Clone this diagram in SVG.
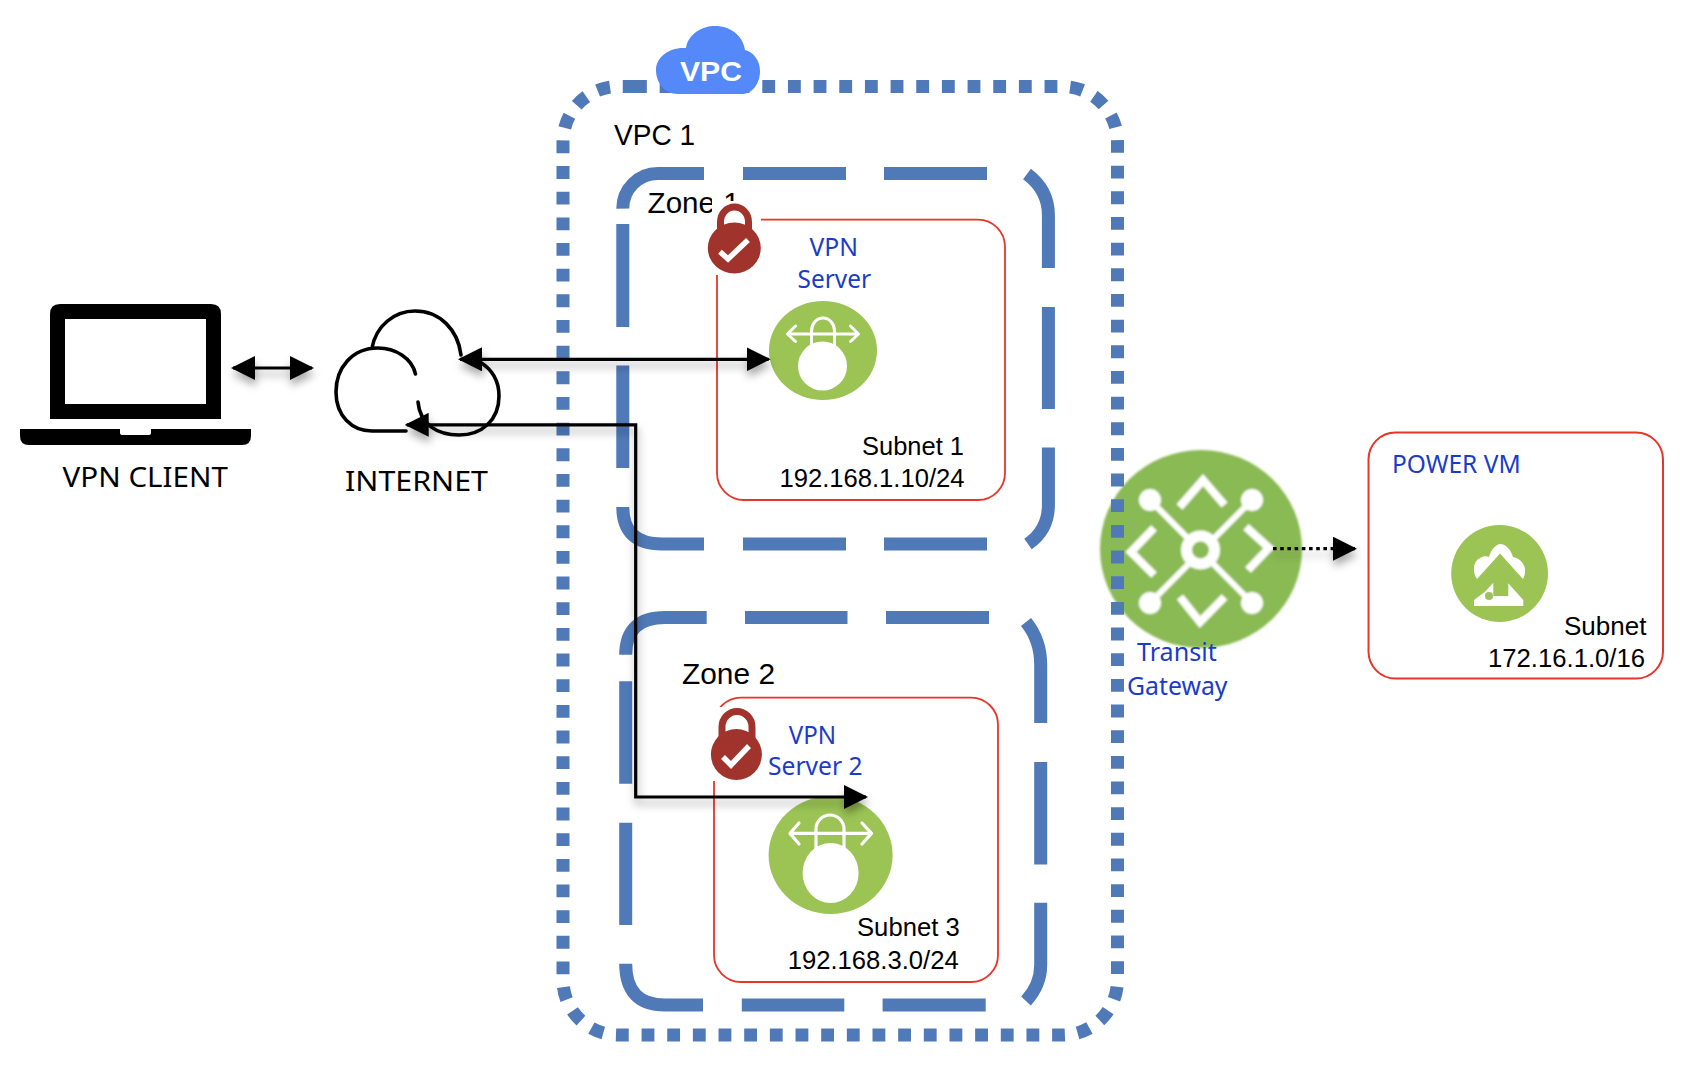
<svg xmlns="http://www.w3.org/2000/svg" width="1692" height="1082" viewBox="0 0 1692 1082">
<style>
text{font-family:"Liberation Sans",Arial,sans-serif;fill:#000}
.plex{font-family:"Noto Sans","Liberation Sans",sans-serif}
.blue{fill:#1a3cc8;font-size:25px}
.lbl{font-size:29px}
.sub{font-size:26px}
.vpc{fill:none;stroke:#5079b8;stroke-width:13;stroke-dasharray:12.83 12.83}
.zone{fill:none;stroke:#5079b8;stroke-width:13}
.subnet{fill:none;stroke:#e8352a;stroke-width:1.8}
.wire{fill:none;stroke:#000;stroke-width:3.2;marker-end:url(#head)}
.two{marker-start:url(#head)}
.ic{fill:none;stroke:#fff;stroke-linecap:round;stroke-linejoin:round}
.lock{fill:#a0342c}
</style>
<defs>
<marker id="head" markerUnits="userSpaceOnUse" markerWidth="24" markerHeight="24" refX="22" refY="12" orient="auto-start-reverse"><path d="M0 0L24 12L0 24Z" fill="#000"/></marker>
<filter id="shadow" x="-10%" y="-30%" width="120%" height="160%"><feDropShadow dx="1" dy="6" stdDeviation="4" flood-color="#000" flood-opacity=".35"/></filter>
<filter id="soft" x="-5%" y="-5%" width="110%" height="110%"><feGaussianBlur stdDeviation=".9"/></filter>
</defs>
<rect width="1692" height="1082" fill="#fff"/>

<g id="transit-gateway">
<g filter="url(#soft)">
<ellipse cx="1201" cy="549" rx="101" ry="99" fill="#8aba52"/>
<g class="ic">
<path stroke-width="6" d="M1150 500L1252 603M1252 500L1150 603"/>
<circle cx="1200.5" cy="550" r="14" fill="#8aba52" stroke-width="11"/>
<g fill="#fff" stroke="none"><circle cx="1150" cy="500" r="11"/><circle cx="1252" cy="500" r="11"/><circle cx="1150" cy="603" r="11"/><circle cx="1252" cy="603" r="11"/></g>
<path stroke-width="8" stroke-linecap="butt" stroke-linejoin="miter" d="M1179.5 507L1203 480L1224.5 505M1154 528L1131 552L1154 575M1246 527L1269 548L1248 570M1180 597L1200 622L1224.5 597"/>
</g>
</g>
</g>

<g id="vpc-1">
<path class="vpc" d="M634 86.6H1063A55 55 0 0 1 1117.5 141.6V980A55 55 0 0 1 1062.5 1035H618A55 55 0 0 1 563 980V141.6A55 55 0 0 1 618 86.6H634"/>
<path d="M678 94C664 94 656 82 656 70C656 58 668 47 686 48C688 34 702 26 715 26C731 26 743 36 745 50C753 52 760 60 760 71C760 84 752 94 742 94Z" fill="#5588f8"/>
<text x="680" y="80.5" font-size="27" font-weight="700" textLength="62" lengthAdjust="spacingAndGlyphs" style="fill:#fff">VPC</text>
<text class="lbl" x="614" y="145" textLength="81" lengthAdjust="spacingAndGlyphs">VPC 1</text>
</g>

<g id="zone-1">
<path class="zone" d="M622.8 208.6A35 35 0 0 1 657.8 173.4H704M743 173.4H846M884 173.4H987M1027 174Q1048.4 190 1048.4 215V268M1048.4 307V409M1048.4 447.6V505Q1048.4 530 1028 544M987 544H884M846 544H743M704 544H662Q622.8 544 622.8 507M622.8 468V365.5M622.8 327V224"/>
<text class="lbl" x="647.6" y="213" textLength="92" lengthAdjust="spacingAndGlyphs">Zone 1</text>
</g>

<g id="zone-2">
<path class="zone" d="M625.7 654.8Q625.7 617.6 665 617.6H706.7M745 617.6H847.5M886 617.6H989M1026 622Q1040.7 640 1040.7 665V723M1040.7 762V864.5M1040.7 902.7V965Q1040.7 985 1026 1001M985.7 1005H882.6M844.3 1005H741.8M703 1005H665Q625.7 1005 625.7 963.8M625.7 925V822.7M625.7 783.8V681.3"/>
<text class="lbl" x="682" y="684" textLength="93" lengthAdjust="spacingAndGlyphs">Zone 2</text>
</g>

<g id="subnet-1">
<rect class="subnet" x="717" y="219.7" width="288" height="280.3" rx="27"/>
<text class="sub" x="862" y="454.5" textLength="102" lengthAdjust="spacingAndGlyphs">Subnet 1</text>
<text class="sub" x="779.5" y="486.5" textLength="185" lengthAdjust="spacingAndGlyphs">192.168.1.10/24</text>
</g>

<g id="lock-1">
<path fill="#fff" d="M712 194H722V201H761V275H712Z"/>
<path d="M720.5 232V222A14 15 0 0 1 748.5 222V232" fill="none" stroke="#a0342c" stroke-width="7"/>
<ellipse class="lock" cx="734.3" cy="248" rx="26.5" ry="25.5"/>
<path d="M720 251.7L728 259L748 240" fill="none" stroke="#fff" stroke-width="5.5"/>
</g>

<g id="vpn-server-1">
<ellipse cx="823" cy="350.5" rx="54" ry="49.5" fill="#9bc455"/>
<path class="ic" stroke-width="3" d="M811.5 345V331A11.5 13 0 0 1 834.5 331V345M788 334H857M795.5 326L787.5 334L795.5 341.5M850.5 326L858.5 334L850.5 341.5"/>
<ellipse cx="822.5" cy="366" rx="24.5" ry="24.5" fill="#fff"/>
<text class="plex blue" x="809.5" y="255.5" textLength="48.5" lengthAdjust="spacingAndGlyphs">VPN</text>
<text class="plex blue" x="797.6" y="288" textLength="73.4" lengthAdjust="spacingAndGlyphs">Server</text>
</g>

<g id="subnet-3">
<rect class="subnet" x="714" y="697.6" width="284" height="284.4" rx="27"/>
<text class="sub" x="857" y="936" textLength="102.7" lengthAdjust="spacingAndGlyphs">Subnet 3</text>
<text class="sub" x="787.7" y="968.6" textLength="171" lengthAdjust="spacingAndGlyphs">192.168.3.0/24</text>
</g>

<g id="lock-2">
<rect x="706" y="707" width="60" height="74" fill="#fff"/>
<path d="M722 738V727A14.5 15 0 0 1 752 727V738" fill="none" stroke="#a0342c" stroke-width="7"/>
<ellipse class="lock" cx="736.4" cy="754.5" rx="25.5" ry="25.5"/>
<path d="M723 757L731 765L749 746" fill="none" stroke="#fff" stroke-width="5.5"/>
</g>

<g id="vpn-server-2">
<ellipse cx="830.6" cy="855" rx="62" ry="59" fill="#9bc455"/>
<path class="ic" stroke-width="3.2" d="M816 850V829A14 14 0 0 1 844 829V850M791 833.4H871M799 823L790 833.4L799 844M862 823L871.5 833.4L862 844"/>
<ellipse cx="830.6" cy="873" rx="28" ry="30" fill="#fff"/>
<text class="plex blue" x="788.7" y="744" textLength="47.3" lengthAdjust="spacingAndGlyphs">VPN</text>
<text class="plex blue" x="768" y="775" textLength="94.6" lengthAdjust="spacingAndGlyphs">Server 2</text>
</g>

<g id="transit-label">
<text class="plex blue" x="1137" y="661" textLength="79.7" lengthAdjust="spacingAndGlyphs">Transit</text>
<text class="plex blue" x="1127" y="695" textLength="100.5" lengthAdjust="spacingAndGlyphs">Gateway</text>
</g>

<g id="power-vm">
<rect x="1368.5" y="432.5" width="294.5" height="246" rx="27" fill="none" stroke="#e8352a" stroke-width="2"/>
<text class="plex blue" x="1392" y="473" textLength="128.6" lengthAdjust="spacingAndGlyphs">POWER VM</text>
<ellipse cx="1499.6" cy="573.5" rx="48.4" ry="48.5" fill="#9bc455"/>
<path fill="#fff" d="M1477 579C1472 572 1473 561 1480 558C1483 556 1486 556 1489 557C1491 549 1497 544 1500 544C1506 544 1511 550 1513 557C1520 558 1526 565 1525 572C1525 575 1524 577 1523 579L1500 553.5Z"/>
<path fill="#fff" d="M1474 606H1523.3V600L1508.3 583.3V596H1493.3V582.7L1485 591.7L1474 600Z"/>
<circle cx="1489" cy="596" r="4" fill="#9bc455"/>
<text class="sub" x="1564" y="635" textLength="82.4" lengthAdjust="spacingAndGlyphs">Subnet</text>
<text class="sub" x="1488" y="667" textLength="157" lengthAdjust="spacingAndGlyphs">172.16.1.0/16</text>
</g>

<g id="vpn-client">
<path d="M60 304H211Q221 304 221 314V419H50V314Q50 304 60 304Z" fill="#000"/>
<rect x="65" y="319" width="141" height="85" fill="#fff"/>
<path d="M20 429H120V433Q120 435 123 435H148Q151 435 151 433V429H251V436Q251 445 242 445H29Q20 445 20 436Z" fill="#000"/>
<text class="plex" x="62.6" y="487" font-size="27.5" textLength="165.4" lengthAdjust="spacingAndGlyphs">VPN CLIENT</text>
</g>

<g id="internet">
<path fill="none" stroke="#000" stroke-width="3.6" stroke-linecap="round" d="M415.5 374C412 358 395 348 378 348C352 348 336 368 336 392C336 416 352 431 372 431H406M372 348C376 326 394 311 415 311C440 311 458 330 461 355M480 362C493 370 499 382 499 396C499 420 482 435 459 435C438 435 420 425 418 402"/>
<text class="plex" x="345" y="491" font-size="27.5" textLength="143" lengthAdjust="spacingAndGlyphs">INTERNET</text>
</g>

<g id="connectors" filter="url(#shadow)">
<path class="wire two" d="M233 368H312"/>
<path class="wire two" d="M460 359.3H768.6"/>
<path class="wire two" d="M406.7 424.8H635.7V797H866"/>
<path class="wire" stroke-dasharray="3.6 3.6" d="M1273 548.7H1355"/>
</g>
</svg>
